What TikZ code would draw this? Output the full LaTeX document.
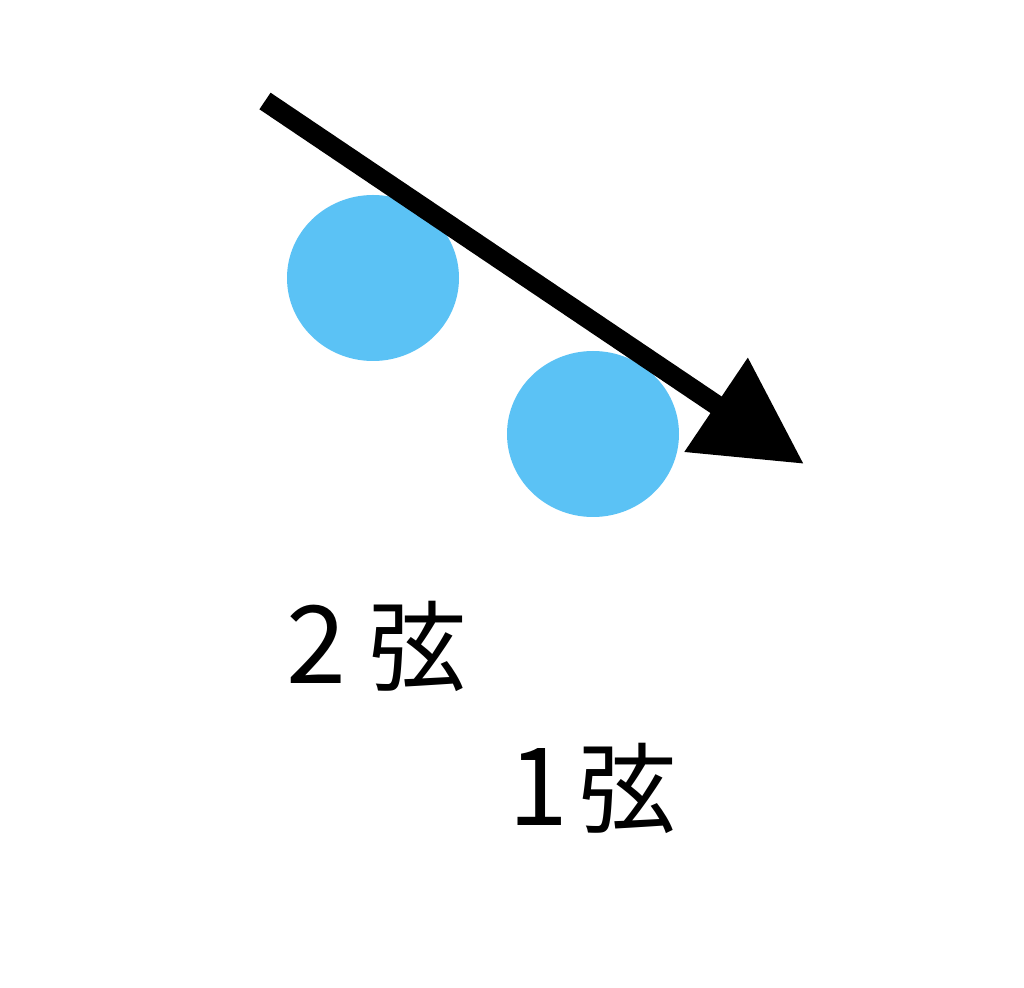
\documentclass[tikz,border=0pt]{standalone}
\usepackage{fontspec}
\setmainfont{Noto Sans CJK JP}
\usetikzlibrary{arrows.meta}
\definecolor{ball}{HTML}{5BC2F5}
\newcommand{\kanjisize}{\fontsize{49pt}{55pt}\selectfont}
\tikzset{
  ballstyle/.style={fill=ball, draw=none},
  label/.style={inner sep=0pt, font=\fontsize{54pt}{60pt}\selectfont, anchor=base west},
  bigarrow/.style={line width=10pt, -{Triangle[length=53pt,width=54pt]}}
}
\begin{document}
\begin{tikzpicture}[x=0.5pt,y=-0.5pt]
\useasboundingbox (0,0) rectangle (1024,988);
\fill[white] (0,0) rectangle (1024,988);
\fill[ballstyle] (373,278) ellipse [x radius=86, y radius=83];
\fill[ballstyle] (593,434) ellipse [x radius=86, y radius=83];
\coordinate (s) at (265,101);
\coordinate (t) at (804,464);
\draw[bigarrow] (s) -- (t);
\node[label] (l2) at (286,684) {2\hspace{11pt}{\kanjisize 弦}};
\node[label] (l1) at (508,826) {1\hspace{5pt}{\kanjisize 弦}};
\end{tikzpicture}
\end{document}
